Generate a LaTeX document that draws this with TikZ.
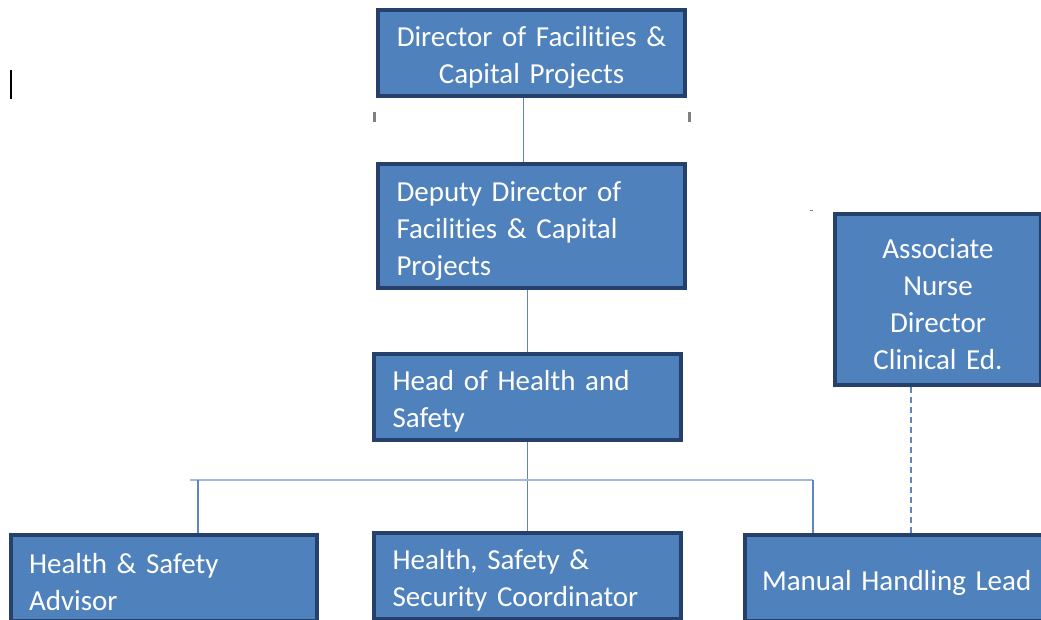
\documentclass[tikz,border=0pt]{standalone}
\usepackage{fontspec}
\setmainfont{Carlito}[Ligatures={NoCommon}]
\usepackage{tikz}
\usetikzlibrary{positioning, calc}
\definecolor{boxfill}{HTML}{4F81BD}
\definecolor{boxedge}{HTML}{25406A}
\definecolor{linkblue}{HTML}{5F84BE}
\definecolor{buslight}{HTML}{9DB9DE}

\begin{document}
\begin{tikzpicture}[x=1pt, y=-1pt,
        role/.style={draw=boxedge, line width=4pt, fill=boxfill, text=white,
                     inner xsep=18pt, inner ysep=4pt,
                     font=\fontsize{29}{37}\selectfont,
                     execute at begin node={\rule{0pt}{29pt}}},
        roleleft/.style={role, align=left},
        rolemid/.style={role, align=center},
        link/.style={draw=linkblue, line width=1.3pt},
        bus/.style={draw=buslight, line width=1.6pt},
        dashlink/.style={draw=linkblue, line width=1.6pt, dash pattern=on 6pt off 4pt}
      ]
      \useasboundingbox (0,0) rectangle (1041,619);
      \clip (0,0) rectangle (1041,619);

      % top of the chain
      \node[rolemid, minimum width=307pt, minimum height=86pt, text width=270pt]
        (dir) at (531.5,53) {Director of Facilities \&\\Capital Projects};
      \node[roleleft, minimum width=307pt, minimum height=124pt, text width=270pt]
        (dep) at (531.5,226) {Deputy Director of\\Facilities \& Capital\\Projects};
      \node[roleleft, minimum width=307pt, minimum height=86pt, text width=270pt]
        (head) at (527.5,397) {Head of Health and\\Safety};

      % reports of the head
      \node[roleleft, minimum width=306pt, minimum height=86pt, text width=270pt]
        (adv) at (164,578) {Health \& Safety\\Advisor};
      \node[roleleft, minimum width=307pt, minimum height=86pt, text width=270pt]
        (coord) at (527.5,576) {Health, Safety \&\\Security Coordinator};
      \node[roleleft, inner xsep=17pt, minimum width=303pt, minimum height=86pt, text width=273pt]
        (man) at (898.5,578) {Manual Handling Lead};

      % side line of report
      \node[rolemid, minimum width=206pt, minimum height=171pt, text width=170pt]
        (assoc) at (938,299.5) {Associate\\Nurse\\Director\\Clinical Ed.};

      % connectors
      \coordinate (busL) at (190,480);
      \coordinate (busR) at (813,480);
      \draw[link] ([xshift=-8pt]dir.south) -- ([xshift=-8pt]dir.south |- dep.north);
      \draw[link] (head.north |- dep.south) -- (head.north);
      \draw[link] (head.south) -- (coord.north);
      \draw[bus] (busL) -- (busR);
      \draw[link] (busR) -- (busR |- man.north);
      \draw[link] ([xshift=8pt]busL) -- ([xshift=8pt]busL |- adv.north);
      \draw[dashlink] ([xshift=-27pt]assoc.south) -- ([xshift=-27pt]assoc.south |- man.north);

      % stray marks
      \draw[gray, line width=3pt] (374,112) -- (374,122);
      \draw[gray, line width=3pt] (689,112) -- (689,122);
      \draw[black, line width=1.5pt] (11,70) -- (11,99);
      \draw[gray, line width=1pt] (810,210) -- (813,210);
    \end{tikzpicture}
\end{document}
